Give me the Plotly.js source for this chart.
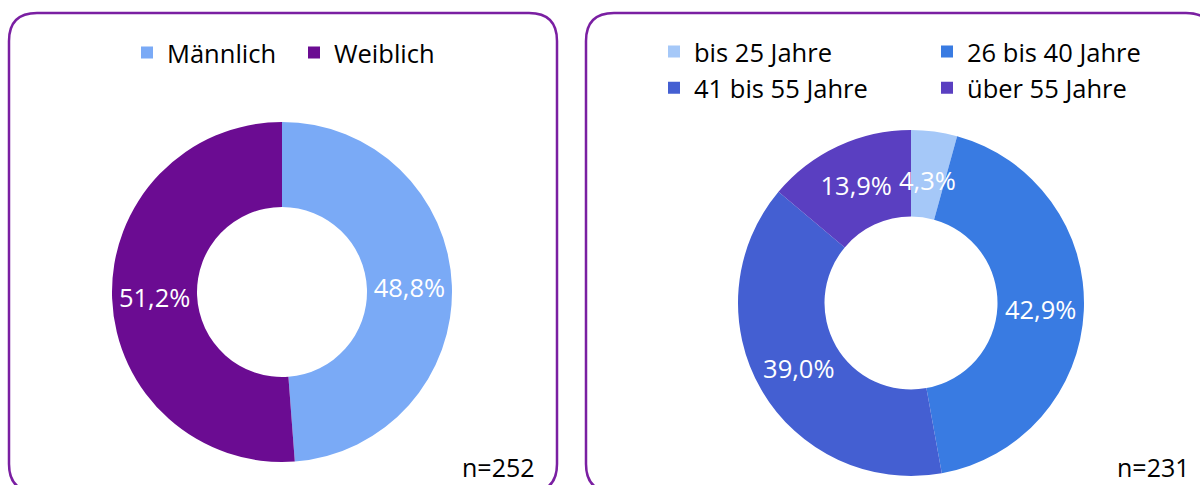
<!DOCTYPE html>
<html>
<head>
<meta charset="utf-8">
<script src="https://cdn.plot.ly/plotly-3.0.1.min.js"></script>
<style>
  html, body { margin: 0; padding: 0; background: #ffffff; overflow: hidden; }
  #wrap { position: relative; width: 1200px; height: 485px; }
  #left { position: absolute; left: 0; top: 0; width: 572px; height: 485px; }
  #right { position: absolute; left: 572px; top: 0; width: 628px; height: 485px; }
</style>
</head>
<body>
<div id="wrap">
  <div id="left"></div>
  <div id="right"></div>
</div>
<script>
// ---- data ----
const genderLabels = ['Männlich', 'Weiblich'];
const genderValues = [48.8, 51.2];
const genderColors = ['#7AAAF6', '#6B0C92'];
const genderN = 'n=252';

const ageLabels = ['bis 25 Jahre', '26 bis 40 Jahre', '41 bis 55 Jahre', 'über 55 Jahre'];
const ageValues = [4.3, 42.9, 39.0, 13.9];
const ageColors = ['#A5C8F8', '#397BE2', '#445FD2', '#5A3FC1'];
const ageN = 'n=231';

const FONT = 'Open Sans, Noto Sans, sans-serif';
const H = 485;
const BORDER = '#7A1FA2';
const LABEL_SIZE = 25.5;

function roundedBox(x0, y0, x1, y1, r, W) {
  const px = x => (x / W).toFixed(5);
  const py = y => (1 - y / H).toFixed(5);
  return 'M' + px(x0 + r) + ',' + py(y0) +
    ' L' + px(x1 - r) + ',' + py(y0) +
    ' Q' + px(x1) + ',' + py(y0) + ' ' + px(x1) + ',' + py(y0 + r) +
    ' L' + px(x1) + ',' + py(y1 - r) +
    ' Q' + px(x1) + ',' + py(y1) + ' ' + px(x1 - r) + ',' + py(y1) +
    ' L' + px(x0 + r) + ',' + py(y1) +
    ' Q' + px(x0) + ',' + py(y1) + ' ' + px(x0) + ',' + py(y1 - r) +
    ' L' + px(x0) + ',' + py(y0 + r) +
    ' Q' + px(x0) + ',' + py(y0) + ' ' + px(x0 + r) + ',' + py(y0) + ' Z';
}

function makePie(el, W, labels, values, colors, nText, cfg) {
  const total = values.reduce((a, b) => a + b, 0);
  // slices too narrow for Plotly's inside text get a full-size label placed on the ring
  const templates = [];
  const extraAnn = [];
  let cum = 0;
  values.forEach((v, i) => {
    const frac = v / total;
    if (frac < 0.08) {
      templates.push('');
      const ang = (cum + frac / 2) * 2 * Math.PI; // clockwise from 12 o'clock
      const rr = 0.72 * cfg.r;
      const x = cfg.cx + rr * Math.sin(ang);
      const y = cfg.cy - rr * Math.cos(ang);
      extraAnn.push({
        text: v.toFixed(1).replace('.', ',') + '%',
        xref: 'paper', yref: 'paper',
        x: x / W, y: 1 - y / H, xanchor: 'center', yanchor: 'middle',
        showarrow: false,
        font: { family: FONT, size: LABEL_SIZE, color: '#ffffff' }
      });
    } else {
      templates.push('%{value:.1f}%');
    }
    cum += frac;
  });

  const trace = {
    type: 'pie',
    labels: labels,
    values: values,
    marker: { colors: colors, line: { width: 0 } },
    hole: 0.5,
    sort: false,
    direction: 'clockwise',
    rotation: 0,
    texttemplate: templates,
    textposition: 'inside',
    insidetextorientation: 'horizontal',
    insidetextfont: { family: FONT, size: LABEL_SIZE, color: '#ffffff' },
    hoverinfo: 'label+value',
    domain: {
      x: [cfg.cx - cfg.r, cfg.cx + cfg.r].map(v => v / W),
      y: [1 - (cfg.cy + cfg.r) / H, 1 - (cfg.cy - cfg.r) / H]
    }
  };
  const layout = {
    width: W, height: H,
    margin: { l: 0, r: 0, t: 0, b: 0, autoexpand: false },
    paper_bgcolor: '#ffffff',
    plot_bgcolor: '#ffffff',
    separators: ',.',
    font: { family: FONT, color: '#000000' },
    showlegend: true,
    legend: {
      orientation: 'h',
      x: cfg.legX / W, xanchor: 'center',
      y: 1 - cfg.legY / H, yanchor: 'middle',
      font: { family: FONT, size: 25.5, color: '#000000' },
      entrywidth: cfg.entrywidth,
      entrywidthmode: 'pixels',
      bgcolor: 'rgba(0,0,0,0)',
      traceorder: 'normal'
    },
    shapes: [{
      type: 'path', xref: 'paper', yref: 'paper',
      path: roundedBox(cfg.box[0], cfg.box[1], cfg.box[2], cfg.box[3], 28, W),
      line: { color: BORDER, width: 2.5 },
      fillcolor: 'rgba(0,0,0,0)',
      layer: 'below'
    }],
    annotations: [{
      text: nText, xref: 'paper', yref: 'paper',
      x: cfg.nX / W, xanchor: 'right',
      y: 1 - 467 / H, yanchor: 'middle',
      showarrow: false,
      font: { family: FONT, size: 25, color: '#000000' }
    }].concat(extraAnn)
  };
  Plotly.newPlot(el, [trace], layout, { displayModeBar: false, staticPlot: true });
}

makePie('left', 572, genderLabels, genderValues, genderColors, genderN, {
  cx: 282, cy: 292, r: 170,
  legX: 294, legY: 53, entrywidth: 122,
  box: [9, 13, 557, 492], nX: 537
});

makePie('right', 628, ageLabels, ageValues, ageColors, ageN, {
  cx: 339, cy: 303, r: 173,
  legX: 355, legY: 70, entrywidth: 228,
  box: [14, 13, 642, 492], nX: 620
});
</script>
</body>
</html>
